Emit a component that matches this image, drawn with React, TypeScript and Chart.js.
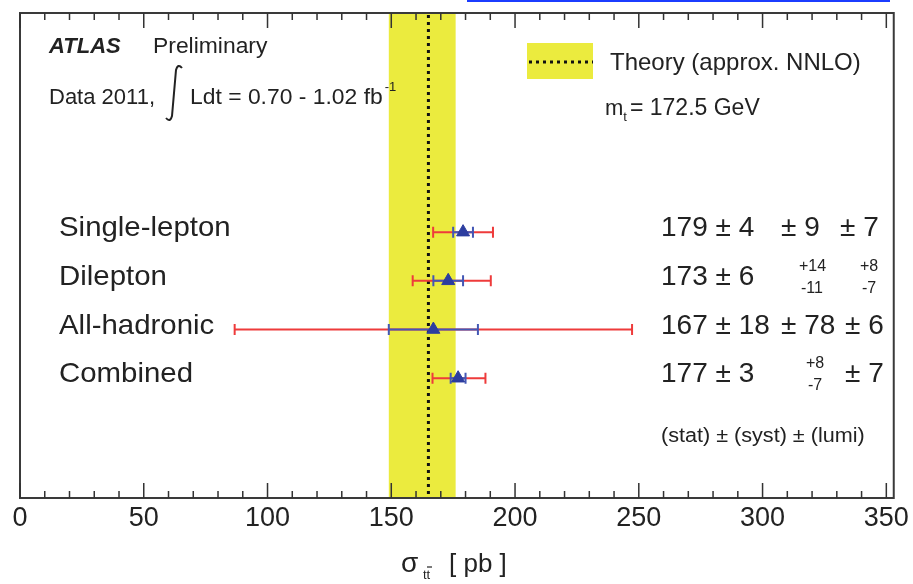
import React, { useEffect, useRef } from "react";
import { Chart, registerables } from "chart.js";

Chart.register(...registerables);

// ---------- data ----------
const channels = ["Single-lepton", "Dilepton", "All-hadronic", "Combined"];
const rowPos = [1, 2, 3, 4];
const central = [179, 173, 167, 177];
const statErr = [4, 6, 18, 3];
const systUp = [9, 14, 78, 8];
const systDown = [9, 11, 78, 7];
const lumiUp = [7, 8, 6, 7];
const lumiDown = [7, 7, 6, 7];

const theoryCentral = 165;
const theoryLow = 149;
const theoryHigh = 176;

const majorTicks = [0, 50, 100, 150, 200, 250, 300, 350];
const minorTicks = [
  0, 10, 20, 30, 40, 50, 60, 70, 80, 90, 100, 110, 120, 130, 140, 150, 160, 170, 180, 190,
  200, 210, 220, 230, 240, 250, 260, 270, 280, 290, 300, 310, 320, 330, 340, 350,
];

// right-side result texts
const resultMain = ["179 ± 4", "173 ± 6", "167 ± 18", "177 ± 3"];
const resultSyst = ["± 9", "", "± 78", ""];
const resultSystUpTxt = ["", "+14", "", "+8"];
const resultSystDownTxt = ["", "-11", "", "-7"];
const resultLumi = ["± 7", "", "± 6", "± 7"];
const resultLumiUpTxt = ["", "+8", "", ""];
const resultLumiDownTxt = ["", "-7", "", ""];

const FONT = '"Liberation Sans", Arial, Helvetica, sans-serif';
const TEXT = "#222222";
const RED = "#ee3b3b";
const BLUE = "#4357b5";
const MARKER = "#2c3d9f";
const YELLOW = "#ebeb3e";

function txt(
  ctx: CanvasRenderingContext2D,
  s: string,
  x: number,
  y: number,
  size: number,
  o: { weight?: string; style?: string; align?: CanvasTextAlign; color?: string; sx?: number } = {}
): number {
  ctx.save();
  ctx.font = `${o.style || "normal"} ${o.weight || "normal"} ${size}px ${FONT}`;
  ctx.fillStyle = o.color || TEXT;
  ctx.textAlign = o.align || "left";
  ctx.textBaseline = "alphabetic";
  const w = ctx.measureText(s).width * (o.sx || 1);
  ctx.translate(x, y);
  ctx.scale(o.sx || 1, 1);
  ctx.fillText(s, 0, 0);
  ctx.restore();
  return x + w;
}

const backPlugin = {
  id: "backPlugin",
  beforeDatasetsDraw(chart: any) {
    const { ctx, chartArea } = chart;
    const xs = chart.scales.x;
    const ys = chart.scales.y;
    ctx.save();
    // theory band
    const x1 = xs.getPixelForValue(theoryLow);
    const x2 = xs.getPixelForValue(theoryHigh);
    ctx.fillStyle = YELLOW;
    ctx.fillRect(x1, chartArea.top, x2 - x1, chartArea.bottom - chartArea.top);
    // theory dotted line
    const xc = xs.getPixelForValue(theoryCentral);
    ctx.strokeStyle = "#111";
    ctx.lineWidth = 3;
    ctx.setLineDash([3, 4]);
    ctx.beginPath();
    ctx.moveTo(xc, chartArea.top + 2);
    ctx.lineTo(xc, chartArea.bottom);
    ctx.stroke();
    ctx.setLineDash([]);

    // error bars
    for (let i = 0; i < channels.length; i++) {
      const y = ys.getPixelForValue(rowPos[i]);
      const up = Math.sqrt(statErr[i] ** 2 + systUp[i] ** 2 + lumiUp[i] ** 2);
      const dn = Math.sqrt(statErr[i] ** 2 + systDown[i] ** 2 + lumiDown[i] ** 2);
      const bar = (lo: number, hi: number, color: string, cap: number) => {
        const a = xs.getPixelForValue(lo);
        const b = xs.getPixelForValue(hi);
        ctx.strokeStyle = color;
        ctx.lineWidth = 2;
        ctx.beginPath();
        ctx.moveTo(a, y);
        ctx.lineTo(b, y);
        ctx.moveTo(a, y - cap);
        ctx.lineTo(a, y + cap);
        ctx.moveTo(b, y - cap);
        ctx.lineTo(b, y + cap);
        ctx.stroke();
      };
      bar(central[i] - dn, central[i] + up, RED, 5.5);
      bar(central[i] - statErr[i], central[i] + statErr[i], BLUE, 5.5);
    }
    ctx.restore();
  },
  afterDraw(chart: any) {
    const { ctx, chartArea } = chart;
    const xs = chart.scales.x;
    const ys = chart.scales.y;
    ctx.save();
    // frame
    ctx.strokeStyle = "#3a3a3a";
    ctx.lineWidth = 2;
    ctx.strokeRect(chartArea.left, chartArea.top, chartArea.right - chartArea.left, chartArea.bottom - chartArea.top);
    // inward ticks
    ctx.lineWidth = 1.5;
    ctx.strokeStyle = "#333";
    ctx.beginPath();
    for (const v of minorTicks) {
      const len = majorTicks.includes(v) ? 15 : 7;
      const x = xs.getPixelForValue(v);
      ctx.moveTo(x, chartArea.bottom);
      ctx.lineTo(x, chartArea.bottom - len);
      ctx.moveTo(x, chartArea.top);
      ctx.lineTo(x, chartArea.top + len);
    }
    ctx.stroke();

    // top link underline artefact
    ctx.strokeStyle = "#1b3cff";
    ctx.lineWidth = 2;
    ctx.beginPath();
    ctx.moveTo(467, 1);
    ctx.lineTo(890, 1);
    ctx.stroke();

    // ATLAS Preliminary
    txt(ctx, "ATLAS", 49, 53, 22, { weight: "bold", style: "italic" });
    txt(ctx, "Preliminary", 153, 53, 22, { sx: 1.04 });
    txt(ctx, "Data 2011,", 49, 104, 22);
    // integral sign
    ctx.strokeStyle = TEXT;
    ctx.lineWidth = 2;
    ctx.beginPath();
    ctx.moveTo(182, 68);
    ctx.quadraticCurveTo(178, 63, 176, 70);
    ctx.lineTo(172, 116);
    ctx.quadraticCurveTo(170, 123, 166, 118);
    ctx.stroke();
    const fbEnd = txt(ctx, "Ldt = 0.70 - 1.02 fb", 190, 104, 22, { sx: 1.04 });
    txt(ctx, "-1", fbEnd + 2, 91, 13);

    // legend
    ctx.fillStyle = YELLOW;
    ctx.fillRect(527, 43, 66, 36);
    ctx.strokeStyle = "#111";
    ctx.lineWidth = 3;
    ctx.setLineDash([3, 4]);
    ctx.beginPath();
    ctx.moveTo(529, 62);
    ctx.lineTo(593, 62);
    ctx.stroke();
    ctx.setLineDash([]);
    txt(ctx, "Theory (approx. NNLO)", 610, 70, 24);
    const mEnd = txt(ctx, "m", 605, 115, 22);
    const tEnd = txt(ctx, "t", mEnd, 121, 13);
    txt(ctx, "= 172.5 GeV", tEnd + 3, 115, 23);

    // channel labels and results
    for (let i = 0; i < channels.length; i++) {
      const y = ys.getPixelForValue(rowPos[i]);
      txt(ctx, channels[i], 59, y + 4, 28, { sx: 1.05 });
      txt(ctx, resultMain[i], 661, y + 4, 28);
      if (resultSyst[i]) txt(ctx, resultSyst[i], 781, y + 4, 28);
      if (resultSystUpTxt[i]) {
        const sx = i === 3 ? 806 : 799;
        txt(ctx, resultSystUpTxt[i], sx, y - 10, 16);
        txt(ctx, resultSystDownTxt[i], sx + 2, y + 12, 16);
      }
      if (resultLumi[i]) txt(ctx, resultLumi[i], i === 0 ? 840 : 845, y + 4, 28);
      if (resultLumiUpTxt[i]) {
        txt(ctx, resultLumiUpTxt[i], 860, y - 10, 16);
        txt(ctx, resultLumiDownTxt[i], 862, y + 12, 16);
      }
    }
    txt(ctx, "(stat) ± (syst) ± (lumi)", 661, 442, 20, { sx: 1.08 });

    // x axis title
    txt(ctx, "σ", 401, 572, 28);
    txt(ctx, "tt", 423, 579, 13);
    ctx.strokeStyle = TEXT;
    ctx.lineWidth = 1.2;
    ctx.beginPath();
    ctx.moveTo(427, 567);
    ctx.lineTo(432, 567);
    ctx.stroke();
    txt(ctx, "[ pb ]", 449, 572, 26);
    ctx.restore();
  },
};

export default function App() {
  const ref = useRef<HTMLCanvasElement | null>(null);
  useEffect(() => {
    if (!ref.current) return;
    const chart = new Chart(ref.current, {
      type: "scatter",
      data: {
        datasets: [
          {
            data: channels.map((_, i) => ({ x: central[i], y: rowPos[i] })),
            pointStyle: "triangle",
            pointRadius: 7.5,
            backgroundColor: MARKER,
            borderColor: MARKER,
            borderWidth: 1,
          },
        ],
      },
      options: {
        animation: false,
        responsive: false,
        maintainAspectRatio: false,
        layout: { padding: { left: 20, right: 18, top: 13, bottom: 0 } },
        plugins: { legend: { display: false }, tooltip: { enabled: false } },
        scales: {
          x: {
            type: "linear",
            min: 0,
            max: 353,
            position: "bottom",
            grid: { display: false, drawTicks: false },
            border: { display: false },
            afterBuildTicks: (s: any) => {
              s.ticks = minorTicks.map((v) => ({ value: v }));
            },
            afterFit: (s: any) => {
              s.height = 86;
            },
            ticks: {
              autoSkip: false,
              maxRotation: 0,
              padding: 4,
              color: TEXT,
              font: { family: FONT, size: 27 },
              callback: (v: any) => (majorTicks.includes(Number(v)) ? String(v) : ""),
            },
          },
          y: { type: "linear", min: -3.5, max: 6.46, reverse: true, display: false },
        },
      },
      plugins: [backPlugin],
    } as any);
    return () => chart.destroy();
  }, []);
  return (
    <div style={{ position: "absolute", left: 0, top: 0, width: 913, height: 584, background: "#fff" }}>
      <canvas ref={ref} width={913} height={584} style={{ width: 913, height: 584, display: "block" }} />
    </div>
  );
}
